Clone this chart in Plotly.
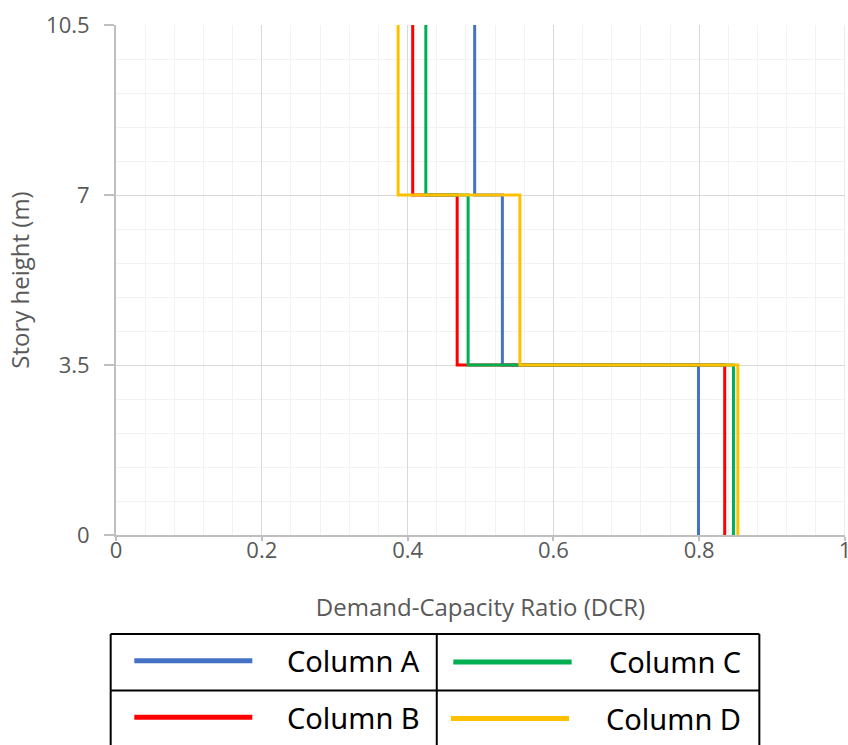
import plotly.graph_objects as go

# story bands (m) and demand-capacity ratio per story, bottom to top
story_bottom = [0, 3.5, 7]
story_top = [3.5, 7, 10.5]
dcr_col_a = [0.799, 0.530, 0.492]
dcr_col_b = [0.835, 0.468, 0.407]
dcr_col_c = [0.847, 0.483, 0.425]
dcr_col_d = [0.853, 0.554, 0.387]

names = ["Column A", "Column B", "Column C", "Column D"]
colors = ["#4472C4", "#FF0000", "#00B050", "#FFC000"]
series = [dcr_col_a, dcr_col_b, dcr_col_c, dcr_col_d]

x_ticks = [0, 0.2, 0.4, 0.6, 0.8, 1]
y_ticks = [0, 3.5, 7, 10.5]


def step_profile(dcr):
    xs, ys = [], []
    for lo, hi, v in zip(story_bottom, story_top, dcr):
        xs += [v, v]
        ys += [lo, hi]
    return xs, ys


fig = go.Figure()
for name, col, dcr in zip(names, colors, series):
    xs, ys = step_profile(dcr)
    fig.add_trace(go.Scatter(
        x=xs, y=ys, mode="lines", name=name,
        line=dict(color=col, width=3), showlegend=False
    ))

tick_font = dict(family="Open Sans", size=22, color="#595959")
title_font = dict(family="Open Sans", size=24, color="#595959")

fig.update_xaxes(
    range=[0, 1], tickvals=x_ticks, ticktext=["0", "0.2", "0.4", "0.6", "0.8", "1"],
    showgrid=True, gridcolor="#D9D9D9", gridwidth=1,
    minor=dict(dtick=0.04, showgrid=True, gridcolor="#F2F2F2", gridwidth=1),
    showline=True, linecolor="#BFBFBF", linewidth=2,
    ticks="outside", ticklen=4, tickcolor="#BFBFBF", tickwidth=2,
    ticklabelstandoff=-9, ticklabeloverflow="allow",
    tickfont=tick_font, zeroline=False, automargin=False,
    title=dict(text="Demand-Capacity Ratio (DCR)", font=title_font, standoff=36),
)
fig.update_yaxes(
    range=[0, 10.5], tickvals=y_ticks, ticktext=["0", "3.5", "7", "10.5"],
    showgrid=True, gridcolor="#D9D9D9", gridwidth=1,
    minor=dict(dtick=0.7, showgrid=True, gridcolor="#F2F2F2", gridwidth=1),
    showline=True, linecolor="#BFBFBF", linewidth=2,
    ticks="outside", ticklen=10, tickcolor="#BFBFBF", tickwidth=2,
    ticklabelstandoff=10,
    tickfont=tick_font, zeroline=False, automargin=False,
    title=dict(text="Story height (m)", font=title_font, standoff=10),
)

# right-hand gridline at DCR = 1 (plotly skips the grid at the range end)
shapes = [dict(type="line", xref="x", yref="paper", x0=1, x1=1, y0=0, y1=1,
               line=dict(color="#D9D9D9", width=1), layer="below")]

# legend drawn as a bordered 2x2 table below the chart
box = dict(type="line", xref="paper", yref="paper", line=dict(color="black", width=2))
left, mid_x, right = -0.0073, 0.440, 0.8825
top, mid_y, bottom = -0.194, -0.305, -0.418
shapes += [
    dict(box, x0=left, x1=right, y0=top, y1=top),
    dict(box, x0=left, x1=right, y0=mid_y, y1=mid_y),
    dict(box, x0=left, x1=right, y0=bottom, y1=bottom),
    dict(box, x0=left, x1=left, y0=top, y1=bottom),
    dict(box, x0=mid_x, x1=mid_x, y0=top, y1=bottom),
    dict(box, x0=right, x1=right, y0=top, y1=bottom),
]
cells = [
    ("Column A", colors[0], 0.0251, 0.187, -0.2465, 0.4198),
    ("Column B", colors[1], 0.0251, 0.187, -0.3575, 0.4198),
    ("Column C", colors[2], 0.4627, 0.625, -0.249, 0.8605),
    ("Column D", colors[3], 0.4595, 0.6214, -0.360, 0.8605),
]
annotations = []
for label, col, x0, x1, y, tx in cells:
    shapes.append(dict(type="line", xref="paper", yref="paper",
                       x0=x0, x1=x1, y0=y, y1=y, line=dict(color=col, width=5)))
    annotations.append(dict(text=label, xref="paper", yref="paper", x=tx, y=y,
                            xanchor="right", yanchor="middle", showarrow=False,
                            font=dict(family="Noto Sans", size=29, color="black")))

fig.update_layout(
    width=848, height=745,
    template="plotly_white",
    plot_bgcolor="white", paper_bgcolor="white",
    margin=dict(l=116, r=3, t=25, b=210),
    shapes=shapes, annotations=annotations,
)

# drop the default page margin so the figure fills the window exactly
fig.write_html(
    "out.html",
    config={"displayModeBar": False},
    post_script="document.body.style.margin='0';document.body.style.overflow='hidden';",
)
